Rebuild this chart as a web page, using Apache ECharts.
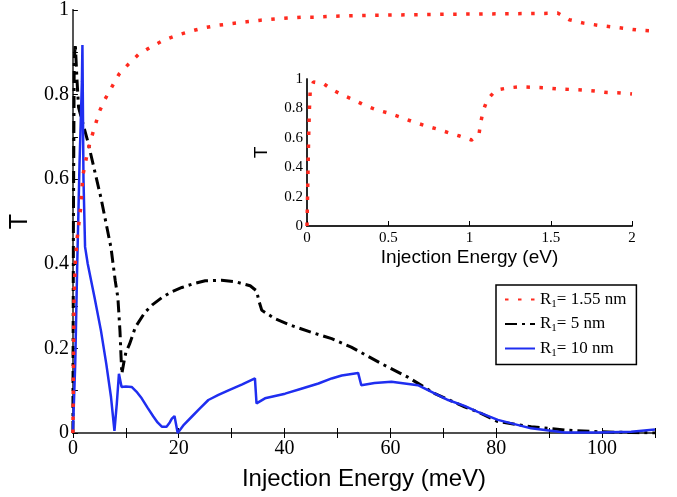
<!DOCTYPE html>
<html>
<head>
<meta charset="utf-8">
<script src="https://cdn.jsdelivr.net/npm/echarts@6/dist/echarts.min.js"></script>
<style>
  html, body { margin: 0; padding: 0; background: #fff; }
  #chart { width: 677px; height: 497px; }
</style>
</head>
<body>
<div id="chart"></div>
<script>
// R1 = 1.55 nm (main plot, meV)
var xRed = [0, 0.1, 0.2, 0.44, 0.8, 1.45, 1.9, 2.8, 3.45, 4.2, 5.0, 6.1, 7.4, 8.7, 10.5, 12.4, 14.8, 17.2, 19.6, 22.3, 24.8, 27.5, 30.1, 32.8, 35.5, 38.2, 40.8, 43.5, 46, 48.9, 51.4, 59.6, 70.3, 81, 89.1, 91.6, 93.8, 96.5, 99.2, 101.9, 104.5, 107.2, 110];
var tRed = [0, 0.15, 0.32, 0.40, 0.46, 0.53, 0.61, 0.666, 0.696, 0.727, 0.76, 0.79, 0.819, 0.848, 0.872, 0.895, 0.913, 0.929, 0.94, 0.95, 0.958, 0.964, 0.968, 0.972, 0.976, 0.979, 0.981, 0.983, 0.983, 0.985, 0.986, 0.988, 0.99, 0.991, 0.992, 0.993, 0.977, 0.969, 0.964, 0.96, 0.956, 0.952, 0.95];

// R1 = 5 nm
var xBlack = [0, 0.1, 0.25, 0.45, 0.75, 1.07, 2.8, 5.3, 7.2, 8.0, 8.5, 8.9, 9.1, 9.25, 9.6, 10.0, 10.7, 11.8, 13.6, 15.0, 16.8, 18.5, 20.6, 22.8, 25, 28.1, 30.6, 33.5, 34.7, 35.2, 35.7, 38.2, 41.3, 45.1, 48.9, 52.6, 58.3, 63.3, 68.4, 74, 76.5, 80.3, 86.6, 92.9, 99.2, 105.5, 110];
var tBlack = [0, 0.5, 0.88, 0.92, 0.84, 0.77, 0.69, 0.556, 0.438, 0.36, 0.32, 0.24, 0.18, 0.14, 0.165, 0.19, 0.21, 0.25, 0.285, 0.303, 0.32, 0.333, 0.344, 0.353, 0.36, 0.361, 0.358, 0.348, 0.336, 0.31, 0.29, 0.27, 0.254, 0.238, 0.223, 0.203, 0.164, 0.132, 0.093, 0.062, 0.05, 0.027, 0.015, 0.007, 0.003, 0.001, 0];

// R1 = 10 nm
var xBlue = [0, 0.44, 0.82, 1.25, 1.7, 1.8, 2.0, 2.3, 2.8, 4.1, 5.3, 6.3, 7.2, 7.85, 8.3, 8.7, 9.2, 10, 11.1, 12, 13, 14.1, 15.2, 16.0, 16.8, 17.7, 18.3, 18.7, 19.2, 19.8, 21, 22.5, 24, 25.6, 27.5, 29.4, 32, 34.4, 34.7, 36.3, 40.1, 43, 46.4, 48.9, 50.8, 53.9, 54.5, 57, 60.2, 65.2, 70.9, 74, 76.5, 80.3, 86.6, 92.9, 99.2, 105.5, 110];
var tBlue = [0, 0.164, 0.40, 0.635, 0.83, 0.917, 0.6, 0.44, 0.40, 0.32, 0.242, 0.164, 0.085, 0.005, 0.07, 0.14, 0.109, 0.11, 0.109, 0.098, 0.082, 0.06, 0.039, 0.025, 0.015, 0.015, 0.025, 0.034, 0.04, 0, 0.02, 0.039, 0.058, 0.078, 0.09, 0.101, 0.115, 0.129, 0.07, 0.082, 0.093, 0.104, 0.117, 0.129, 0.136, 0.142, 0.113, 0.118, 0.121, 0.113, 0.078, 0.064, 0.05, 0.031, 0.011, 0.001, 0.001, 0.003, 0.008];

// inset, R1 = 1.55 nm (eV)
var xInset = [0, 0.005, 0.01, 0.015, 0.02, 0.04, 0.1, 0.15, 0.22, 0.285, 0.357, 0.43, 0.505, 0.576, 0.65, 0.726, 0.8, 0.87, 0.94, 1.013, 1.058, 1.068, 1.085, 1.11, 1.163, 1.24, 1.31, 1.39, 1.465, 1.54, 1.62, 1.69, 1.77, 1.85, 1.93, 2.0];
var tInset = [0, 0.3, 0.6, 0.8, 0.925, 0.98, 0.97, 0.93, 0.89, 0.86, 0.82, 0.79, 0.767, 0.74, 0.71, 0.683, 0.66, 0.635, 0.612, 0.585, 0.62, 0.70, 0.786, 0.86, 0.925, 0.94, 0.947, 0.943, 0.94, 0.933, 0.929, 0.925, 0.918, 0.908, 0.905, 0.898];

var names = ['R{s|1}= 1.55 nm', 'R{s|1}= 5 nm', 'R{s|1}= 10 nm'];

function pairs(xs, ys) {
    return xs.map(function (x, i) { return [x, ys[i]]; });
}

var chart = echarts.init(document.getElementById('chart'));

var serif = 'Liberation Serif';
var sans = 'Liberation Sans';
var red = '#ff2a1f';
var blue = '#1f2ef0';

function tickAxis(extra) {
    return Object.assign({
        type: 'value',
        axisLine: { show: true, onZero: false, lineStyle: { color: '#000', width: 1.5 } },
        axisTick: { show: true, inside: true, length: 5, lineStyle: { color: '#000', width: 1 } },
        splitLine: { show: false },
        axisLabel: { color: '#000', fontFamily: serif }
    }, extra);
}

var option = {
    animation: false,
    backgroundColor: '#fff',
    grid: [
        { left: 71, right: 22, top: 8, bottom: 64 },
        { left: 307, right: 45, top: 79, bottom: 271, show: true, backgroundColor: '#fff', borderWidth: 0 }
    ],
    legend: {
        data: names,
        orient: 'vertical',
        left: 496,
        top: 285,
        padding: [6, 10, 6, 8],
        itemWidth: 30,
        itemHeight: 14,
        itemGap: 6,
        borderColor: '#000',
        borderWidth: 1.5,
        backgroundColor: '#fff',
        itemStyle: { opacity: 0 },
        textStyle: {
            fontFamily: serif, fontSize: 17, color: '#000',
            rich: { s: { fontFamily: serif, fontSize: 11, verticalAlign: 'bottom', padding: [9, 0, 0, 0] } }
        }
    },
    xAxis: [
        tickAxis({
            gridIndex: 0, min: 0, max: 110, interval: 10,
            name: 'Injection Energy (meV)', nameLocation: 'middle', nameGap: 34,
            nameTextStyle: { fontFamily: sans, fontSize: 24, color: '#000' },
            axisLabel: {
                color: '#000', fontFamily: serif, fontSize: 20, margin: 6,
                formatter: function (v) { return v % 20 === 0 ? String(v) : ''; }
            }
        }),
        tickAxis({
            gridIndex: 0, min: 0, max: 110, interval: 10, position: 'top',
            axisLine: { show: true, lineStyle: { color: '#555', width: 1.5 } },
            axisLabel: { show: false }
        }),
        tickAxis({
            gridIndex: 1, min: 0, max: 2, interval: 0.5,
            name: 'Injection Energy (eV)', nameLocation: 'middle', nameGap: 22,
            nameTextStyle: { fontFamily: sans, fontSize: 19, color: '#000' },
            axisLabel: { color: '#000', fontFamily: serif, fontSize: 15, margin: 5 }
        }),
        tickAxis({
            gridIndex: 1, min: 0, max: 2, position: 'top',
            axisTick: { show: false }, axisLabel: { show: false },
            axisLine: { show: true, lineStyle: { color: '#222', width: 1.5 } }
        })
    ],
    yAxis: [
        tickAxis({
            gridIndex: 0, min: 0, max: 1, interval: 0.1,
            name: 'T', nameLocation: 'middle', nameGap: 36,
            nameTextStyle: { fontFamily: sans, fontSize: 25, color: '#000' },
            axisLabel: {
                color: '#000', fontFamily: serif, fontSize: 20, margin: 4,
                formatter: function (v) {
                    var k = Math.round(v * 10);
                    return k % 2 === 0 ? String(k / 10) : '';
                }
            }
        }),
        tickAxis({
            gridIndex: 0, min: 0, max: 1, position: 'right',
            axisTick: { show: false }, axisLabel: { show: false },
            axisLine: { show: true, lineStyle: { color: '#555', width: 2 } }
        }),
        tickAxis({
            gridIndex: 1, min: 0, max: 1, interval: 0.2,
            name: 'T', nameLocation: 'middle', nameGap: 36,
            nameTextStyle: { fontFamily: sans, fontSize: 19, color: '#000' },
            axisTick: { show: false },
            axisLabel: { color: '#000', fontFamily: serif, fontSize: 15, margin: 4 }
        }),
        tickAxis({
            gridIndex: 1, min: 0, max: 1, position: 'right',
            axisTick: { show: false }, axisLabel: { show: false },
            axisLine: { show: true, lineStyle: { color: '#222', width: 1.5 } }
        })
    ],
    series: [
        {
            name: names[1], type: 'line', xAxisIndex: 0, yAxisIndex: 0,
            symbol: 'none', z: 2,
            lineStyle: { color: '#000', width: 3, type: [12, 5, 3, 5] },
            data: pairs(xBlack, tBlack)
        },
        {
            name: names[2], type: 'line', xAxisIndex: 0, yAxisIndex: 0,
            symbol: 'none', z: 3,
            lineStyle: { color: blue, width: 2.5 },
            data: pairs(xBlue, tBlue)
        },
        {
            name: names[0], type: 'line', xAxisIndex: 0, yAxisIndex: 0,
            symbol: 'none', z: 4,
            lineStyle: { color: red, width: 3.5, type: [3.5, 9.5] },
            data: pairs(xRed, tRed)
        },
        {
            name: 'inset', type: 'line', xAxisIndex: 2, yAxisIndex: 2,
            symbol: 'none', z: 4,
            lineStyle: { color: red, width: 3.5, type: [3.5, 9.5] },
            data: pairs(xInset, tInset)
        }
    ]
};

chart.setOption(option);
</script>
</body>
</html>
